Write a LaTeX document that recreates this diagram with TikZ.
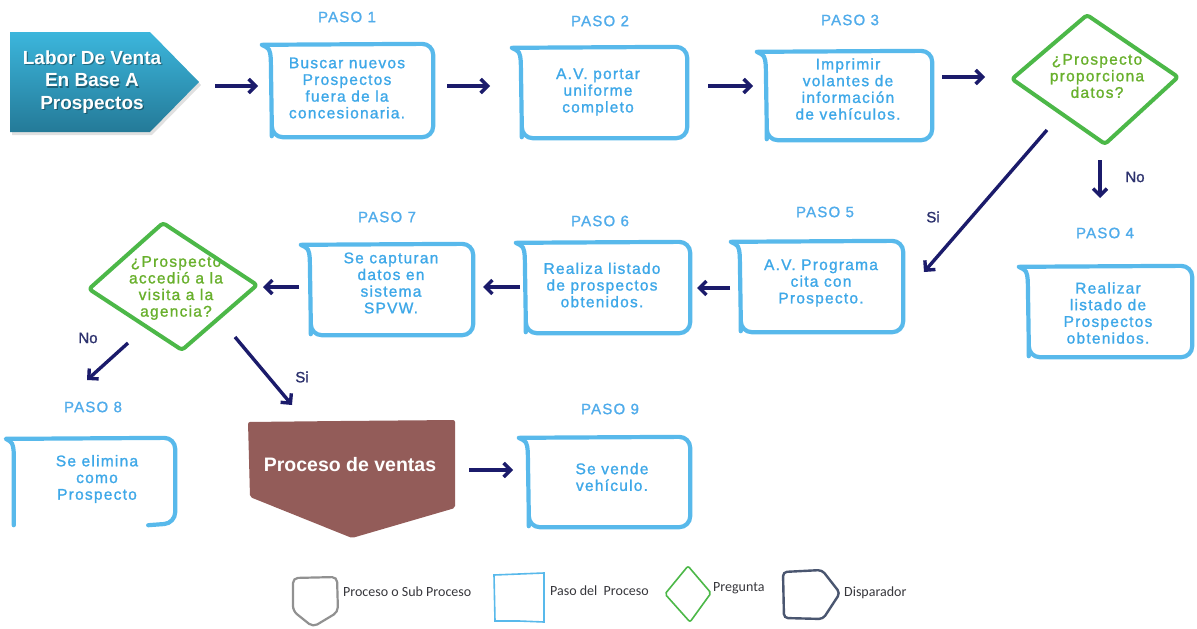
\documentclass[tikz,border=0pt]{standalone}
\usepackage{fontspec}
\setmainfont{Liberation Sans}
\newfontfamily\trackfont[LetterSpace=8,FakeBold=1.2]{Liberation Sans}
\newfontfamily\ynfont[FakeBold=1.2]{Liberation Sans}
\newfontfamily\legfont{Carlito}
\usetikzlibrary{arrows.meta,calc}
\definecolor{boxline}{RGB}{88,185,235}
\definecolor{boxtext}{RGB}{62,168,232}
\definecolor{pasotext}{RGB}{80,172,235}
\definecolor{greenline}{RGB}{76,184,72}
\definecolor{greentext}{RGB}{104,176,44}
\definecolor{navy}{RGB}{27,27,107}
\definecolor{labnavy}{RGB}{45,50,110}
\definecolor{startA}{RGB}{60,182,220}
\definecolor{startB}{RGB}{36,122,152}
\definecolor{procfill}{RGB}{147,92,89}
\definecolor{slate}{RGB}{74,86,112}
\definecolor{leggray}{RGB}{145,145,145}
\definecolor{legtext}{RGB}{55,55,60}
\tikzset{
  stepline/.style={draw=boxline, line width=4.2pt, line join=round, line cap=round},
  boxtxt/.style={font=\trackfont\fontsize{15.5}{16.7}\selectfont, text=boxtext, align=center, inner sep=0pt},
  pasolbl/.style={font=\trackfont\fontsize{15}{17}\selectfont, text=pasotext, inner sep=0pt},
  qline/.style={draw=greenline, line width=4pt, line join=round, rounded corners=3pt},
  qtxt/.style={font=\trackfont\fontsize{15.5}{16.6}\selectfont, text=greentext, align=center, inner sep=0pt},
  arr/.style={draw=navy, line width=3.4pt, -{Straight Barb[length=7pt,width=14pt]}},
  yn/.style={font=\ynfont\fontsize{15}{17}\selectfont, text=labnavy, inner sep=0pt},
  legtxt/.style={font=\legfont\fontsize{14}{16}\selectfont, text=legtext, inner sep=0pt, anchor=west},
}
\newcommand\stepbox[6]{%
  \node[inner sep=0pt, minimum width=#3pt, minimum height=#4pt] (#1) at (#2) {};
  \node[boxtxt] (#1t) at (#5) {#6};
  \draw[stepline] (#1.north west) [rounded corners=11pt]
     -- ($(#1.north east)+(0,-1)$) -- (#1.south east)
     -- ($(#1.south west)+(9,0)$) -- ($(#1.south west)+(9,-12)$) [sharp corners]
     -- ($(#1.north west)+(8,14)$) .. controls ($(#1.north west)+(7,4)$) .. ($(#1.north west)+(-1,0)$);
}
\begin{document}
\begin{tikzpicture}[x=1pt,y=-1pt]
\useasboundingbox (0,0) rectangle (1197,629);
\fill[white] (0,0) rectangle (1197,629);

% start (trigger)
\fill[black, opacity=.12] (12,35) -- (152,35) -- (201,85) -- (152,135) -- (12,135) -- cycle;
\shade[top color=startA, bottom color=startB] (10,32) -- (150,32) -- (199,82) -- (150,132) -- (10,132) -- cycle;
\node[font=\bfseries\fontsize{19}{22.5}\selectfont, text=black, opacity=.35, align=center, inner sep=0pt] (startsh) at (93.2,83.2) {Labor De Venta\\En Base A\\Prospectos};
\node[font=\bfseries\fontsize{19}{22.5}\selectfont, text=white, align=center, inner sep=0pt] (start) at (92,82) {Labor De Venta\\En Base A\\Prospectos};

% step boxes
\stepbox{b1}{348,91}{170}{92}{347,88}{Buscar nuevos\\Prospectos\\fuera de la\\concesionaria.}
\stepbox{b2}{600,93}{174}{90}{598,92}{A.V. portar\\uniforme\\completo}
\stepbox{b3}{845,96}{174}{88}{848,89}{Imprimir\\volantes de\\información\\de vehículos.}
\stepbox{b4}{1106,312}{172}{90}{1108,313}{Realizar\\listado de\\Prospectos\\obtenidos.}
\stepbox{b5}{817.5,287}{171}{90}{821,283}{A.V. Programa\\cita con\\Prospecto.}
\stepbox{b6}{603.5,288}{173}{90}{602,285}{Realiza listado\\de prospectos\\obtenidos.}
\stepbox{b7}{387.5,290}{171}{90}{391,283}{Se capturan\\datos en\\sistema\\SPVW.}
\stepbox{b9}{605,482.5}{170}{89}{612,477}{Se vende\\vehículo.}

% step 8 (partly cut)
\node[inner sep=0pt, minimum width=169pt, minimum height=84pt] (b8) at (90.5,481) {};
\node[boxtxt] (b8t) at (97,479) {Se elimina\\como\\Prospecto};
\draw[stepline] ($(b8.south east)+(-27,2)$) [rounded corners=11pt] -- (b8.south east)
   -- ($(b8.north east)+(0,-1)$) -- ($(b8.north west)+(14,0)$) [sharp corners] -- (b8.north west)
   .. controls ($(b8.north west)+(7,4)$) .. ($(b8.north west)+(8,14)$) -- ($(b8.south west)+(8,2)$);

% PASO labels
\node[pasolbl] (p1) at (347,17) {PASO 1};
\node[pasolbl] (p2) at (600,21) {PASO 2};
\node[pasolbl] (p3) at (850,20) {PASO 3};
\node[pasolbl] (p4) at (1105,233) {PASO 4};
\node[pasolbl] (p5) at (825,212) {PASO 5};
\node[pasolbl] (p6) at (600,221) {PASO 6};
\node[pasolbl] (p7) at (387,217) {PASO 7};
\node[pasolbl] (p8) at (93,407) {PASO 8};
\node[pasolbl] (p9) at (610,409) {PASO 9};

% decisions
\node[qtxt] (d1) at (1097,76) {¿Prospecto\\proporciona\\datos?};
\draw[qline] ($(d1)+(-85,3)$) -- ($(d1)+(-10,-61)$) -- ($(d1)+(81,1)$) -- ($(d1)+(8,68)$) -- cycle;
\node[qtxt] (d2) at (176,288) {¿Prospecto\\accedió a la\\visita a la\\agencia?};
\draw[qline] ($(d2)+(-87,1)$) -- ($(d2)+(-13,-65)$) -- ($(d2)+(81,-3)$) -- ($(d2)+(6,62)$) -- cycle;

% sales process
\fill[procfill, rounded corners=2pt] (248,422) -- (340,421) -- (455,420) -- (455,508) -- (352,538) -- (250,497) -- cycle;
\node[font=\bfseries\fontsize{19.5}{22}\selectfont, text=white, inner sep=0pt] (proc) at (350,465) {Proceso de ventas};

% connectors
\draw[arr] ($(start)+(123,4)$) -- ($(b1)+(-90,-5)$);
\draw[arr] ($(b1)+(99,-5)$) -- ($(b2)+(-110,-7)$);
\draw[arr] ($(b2)+(108,-7)$) -- ($(b3)+(-92,-10)$);
\draw[arr] ($(b3)+(97,-19)$) -- ($(d1)+(-112,1)$);
\draw[arr] ($(d1)+(3,84)$) -- ($(b4)+(-6,-114)$);
\draw[arr] ($(d1)+(-50,54)$) -- ($(b5)+(106.5,-15)$);
\draw[arr] ($(b5)+(-87.5,1)$) -- ($(b6)+(93.5,0)$);
\draw[arr] ($(b6)+(-83.5,-1)$) -- ($(b7)+(95.5,-3)$);
\draw[arr] ($(b7)+(-88.5,-3)$) -- ($(d2)+(87,-1)$);
\draw[arr] ($(d2)+(-48,55)$) -- ($(b8)+(-3.5,-101)$);
\draw[arr] ($(d2)+(59,49)$) -- ($(proc)+(-58,-60)$);
\draw[arr] ($(proc)+(119,5)$) -- ($(b9)+(-92,-12.5)$);

\node[yn] (no1) at (1135,177) {No};
\node[yn] (si1) at (933,217) {Si};
\node[yn] (no2) at (88,338) {No};
\node[yn] (si2) at (302,377) {Si};

% legend
\draw[leggray, line width=2.2pt, rounded corners=5pt] (293,578) -- (337,577) -- (338,612) -- (313,627) -- (293,611) -- cycle;
\node[legtxt] (l1) at (343,592) {Proceso o Sub Proceso};
\draw[boxline, line width=1.6pt] (494,575) -- (519,574) -- (544,573) -- (544,622) -- (519,621) -- (495,621) -- cycle;
\node[legtxt] (l2) at (550,591) {Paso del\ \ Proceso};
\draw[greenline, line width=1.6pt, rounded corners=2pt] (665,594) -- (688,566) -- (711,593) -- (690,622) -- cycle;
\node[legtxt] (l3) at (713,588) {Pregunta};
\draw[slate, line width=2.4pt, rounded corners=4pt] (783,572) -- (822,570) -- (840,593) -- (823,619) -- (784,618) -- cycle;
\node[legtxt] (l4) at (844,593) {Disparador};
\end{tikzpicture}
\end{document}
